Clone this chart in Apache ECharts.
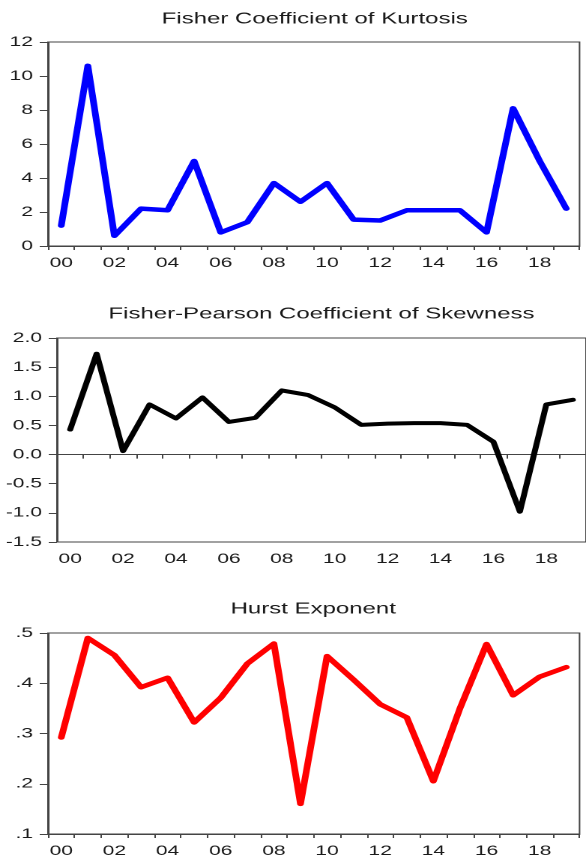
<!DOCTYPE html>
<html>
<head>
<meta charset="utf-8">
<script src="https://cdn.jsdelivr.net/npm/echarts@6/dist/echarts.min.js"></script>
<style>
html,body{margin:0;padding:0;background:#fff;overflow:hidden;}
#wrap{width:586px;height:858px;overflow:hidden;position:relative;}
#chart{width:391px;height:858px;transform:scaleX(1.4987);transform-origin:0 0;}
</style>
</head>
<body>
<div id="wrap"><div id="chart"></div></div>
<script>
// Data
const years = ['00','01','02','03','04','05','06','07','08','09','10','11','12','13','14','15','16','17','18','19'];
const kurtosis = [1.2, 10.6, 0.6, 2.2, 2.1, 5.0, 0.8, 1.4, 3.7, 2.6, 3.7, 1.55, 1.5, 2.1, 2.1, 2.1, 0.8, 8.1, 5.0, 2.2];
const skewness = [0.43, 1.73, 0.06, 0.86, 0.62, 0.98, 0.56, 0.63, 1.10, 1.02, 0.81, 0.51, 0.53, 0.54, 0.54, 0.51, 0.22, -0.98, 0.86, 0.94];
const hurst = [0.292, 0.490, 0.456, 0.392, 0.411, 0.322, 0.371, 0.439, 0.479, 0.160, 0.454, 0.407, 0.358, 0.332, 0.205, 0.350, 0.478, 0.376, 0.413, 0.432];
const titles = ['Fisher Coefficient of Kurtosis', 'Fisher-Pearson Coefficient of Skewness', 'Hurst Exponent'];

const FONT = 'Liberation Sans, Arial, sans-serif';
const TXT = '#1a1a1a';
const FRAME = '#444';

const chart = echarts.init(document.getElementById('chart'), null, {renderer: 'canvas', devicePixelRatio: 2});

const grids = [
  {left: 32, top: 42, width: 354.7, height: 204},
  {left: 38, top: 338, width: 355.3, height: 204},
  {left: 32, top: 633, width: 354.7, height: 204}
];
const yRanges = [
  {min: 0, max: 12, interval: 2, fmt: v => String(v)},
  {min: -1.5, max: 2, interval: 0.5, fmt: v => v.toFixed(1)},
  {min: 0.1, max: 0.5, interval: 0.1, fmt: v => v.toFixed(1).replace(/^0/, '')}
];
const seriesData = [kurtosis, skewness, hurst];
const colors = ['#0000ff', '#000000', '#ff0000'];
const widths = [4.5, 4, 4.5];
const titleCenters = [210, 214.5, 209];
const titleTops = [11, 306, 601];

const option = {
  animation: false,
  backgroundColor: '#fff',
  title: titles.map((t, i) => ({
    text: t,
    left: titleCenters[i],
    top: titleTops[i],
    textAlign: 'center',
    padding: 0,
    textStyle: {fontFamily: FONT, fontSize: 16, fontWeight: 'normal', color: TXT}
  })),
  grid: grids.map(g => Object.assign({show: true, borderColor: FRAME, borderWidth: 1, backgroundColor: 'transparent', containLabel: false}, g)),
  xAxis: grids.map((g, i) => ({
    type: 'category',
    gridIndex: i,
    data: years,
    boundaryGap: true,
    axisLine: {show: true, lineStyle: {color: FRAME, width: 1}},
    axisTick: {show: true, interval: 0, alignWithLabel: false, inside: false, length: 4, lineStyle: {color: FRAME, width: 1}},
    axisLabel: {interval: 1, margin: 10, fontFamily: FONT, fontSize: 14, color: TXT},
    splitLine: {show: false}
  })),
  yAxis: yRanges.map((r, i) => ({
    type: 'value',
    gridIndex: i,
    min: r.min,
    max: r.max,
    interval: r.interval,
    axisLine: {show: true, lineStyle: {color: FRAME, width: 1}},
    axisTick: {show: true, inside: false, length: 5.5, lineStyle: {color: FRAME, width: 1}},
    axisLabel: {margin: 10, fontFamily: FONT, fontSize: 14, color: TXT, formatter: r.fmt},
    splitLine: {show: false}
  })),
  series: seriesData.map((d, i) => ({
    type: 'line',
    xAxisIndex: i,
    yAxisIndex: i,
    data: d,
    showSymbol: false,
    symbol: 'none',
    lineStyle: {color: colors[i], width: widths[i], cap: 'round', join: 'round'},
    itemStyle: {color: colors[i]}
  }))
};
chart.setOption(option);
</script>
</body>
</html>
